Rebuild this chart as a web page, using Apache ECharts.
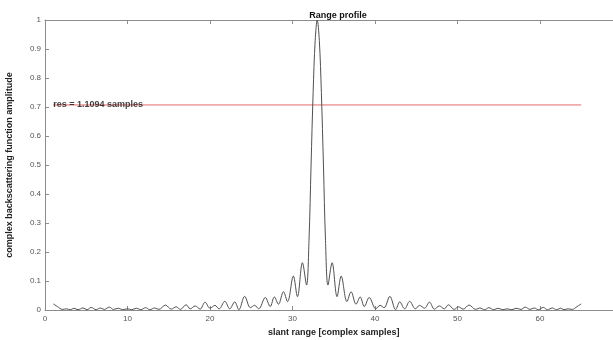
<!DOCTYPE html>
<html>
<head>
<meta charset="utf-8">
<script src="https://cdn.jsdelivr.net/npm/echarts@6/dist/echarts.min.js"></script>
<style>
  html, body { margin: 0; padding: 0; background: #fff; }
  #chart { width: 613px; height: 340px; }
</style>
</head>
<body>
<div id="chart"></div>
<script>
// slant range positions (complex samples) and amplitude
const rangeX = [
  1.0, 1.5, 2.1, 2.6, 3.1, 3.5, 4.0, 4.6, 5.1, 5.6, 6.2, 6.7, 7.2, 7.8, 8.3, 8.9, 9.4, 10.0, 10.5,
  11.1, 11.6, 12.2, 12.7, 13.3, 13.8, 14.6, 15.3, 15.9, 16.4, 17.1, 17.6, 18.2, 18.8, 19.4, 20.0,
  20.6, 21.1, 21.8, 22.4, 23.0, 23.5, 24.2, 24.9, 25.4, 25.9, 26.7, 27.3, 27.8, 28.3, 28.9, 29.4,
  30.1, 30.6, 31.2, 31.7, 32.0, 32.25, 32.5, 32.75, 33.0,
  33.25, 33.5, 33.75, 34.0, 34.3, 34.8, 35.4, 35.9, 36.6, 37.1, 37.7, 38.2, 38.7, 39.3, 40.1,
  40.6, 41.1, 41.8, 42.5, 43.0, 43.6, 44.2, 44.9, 45.4, 46.0, 46.6, 47.2, 47.8, 48.4, 48.9, 49.6,
  50.1, 50.7, 51.4, 52.2, 52.7, 53.3, 53.8, 54.4, 54.9, 55.5, 56.0, 56.6, 57.1, 57.7, 58.2, 58.8,
  59.3, 59.8, 60.4, 60.9, 61.5, 62.0, 62.5, 62.9, 63.4, 63.9, 64.5, 65.0
];
const amplitude = [
  0.021, 0.012, 0.002, 0.004, 0.001, 0.006, 0.001, 0.007, 0.001, 0.009, 0.001, 0.007, 0.002, 0.010, 0.002, 0.006, 0.001, 0.004, 0.001,
  0.006, 0.001, 0.008, 0.001, 0.007, 0.002, 0.017, 0.003, 0.011, 0.002, 0.018, 0.004, 0.014, 0.003, 0.027, 0.006,
  0.016, 0.004, 0.030, 0.004, 0.028, 0.001, 0.047, 0.008, 0.016, 0.004, 0.043, 0.012, 0.045, 0.020, 0.063, 0.029,
  0.117, 0.046, 0.163, 0.086, 0.240, 0.500, 0.750, 0.930, 1.000,
  0.930, 0.750, 0.500, 0.240, 0.086, 0.163, 0.046, 0.117, 0.029, 0.063, 0.020, 0.045, 0.012, 0.043, 0.004,
  0.016, 0.008, 0.047, 0.001, 0.028, 0.004, 0.030, 0.004, 0.016, 0.006, 0.027, 0.003, 0.014, 0.004, 0.018, 0.002,
  0.011, 0.003, 0.017, 0.002, 0.007, 0.001, 0.008, 0.001, 0.006, 0.001, 0.004, 0.001, 0.006, 0.002, 0.010, 0.002,
  0.007, 0.001, 0.009, 0.001, 0.007, 0.001, 0.006, 0.001, 0.004, 0.002, 0.012, 0.021
];
// -3 dB level line
const resX = [1, 65];
const resY = [0.7071, 0.7071];
const resText = 'res = 1.1094 samples';

const xTicks = [0, 10, 20, 30, 40, 50, 60, 70];

const FONT = '"Liberation Sans", Arial, sans-serif';
const AXIS_COLOR = '#8c8c8c';

const chart = echarts.init(document.getElementById('chart'), null, { renderer: 'canvas' });

const option = {
  animation: false,
  backgroundColor: '#fff',
  title: {
    text: 'Range profile',
    left: 333,
    top: 6,
    textAlign: 'center',
    textStyle: { fontFamily: FONT, fontSize: 9, fontWeight: 'bold', color: '#111' }
  },
  grid: {
    left: 45, top: 20, width: 577.5, height: 290,
    containLabel: false,
    outerBoundsMode: 'none'
  },
  xAxis: [
    {
      type: 'value',
      min: 0,
      max: 70,
      interval: 10,
      name: 'slant range [complex samples]',
      nameLocation: 'middle',
      nameGap: 12,
      nameTextStyle: { fontFamily: FONT, fontSize: 9, fontWeight: 'bold', color: '#222' },
      axisLine: { show: true, lineStyle: { color: AXIS_COLOR, width: 1 } },
      axisTick: { show: true, inside: true, length: 4, lineStyle: { color: AXIS_COLOR } },
      axisLabel: {
        fontFamily: FONT, fontSize: 8, color: '#555', margin: 5,
        customValues: xTicks
      },
      splitLine: { show: false }
    },
    {
      type: 'value',
      position: 'top',
      min: 0,
      max: 70,
      interval: 10,
      axisLine: { show: true, onZero: false, lineStyle: { color: AXIS_COLOR, width: 1 } },
      axisTick: { show: true, inside: true, length: 4, lineStyle: { color: AXIS_COLOR } },
      axisLabel: { show: false },
      splitLine: { show: false }
    }
  ],
  yAxis: {
    type: 'value',
    min: 0,
    max: 1,
    interval: 0.1,
    name: 'complex backscattering function amplitude',
    nameLocation: 'middle',
    nameGap: 31,
    nameTextStyle: { fontFamily: FONT, fontSize: 9, fontWeight: 'bold', color: '#222' },
    axisLine: { show: true, lineStyle: { color: AXIS_COLOR, width: 1 } },
    axisTick: { show: true, inside: true, length: 4, lineStyle: { color: AXIS_COLOR } },
    axisLabel: {
      fontFamily: FONT, fontSize: 8, color: '#555', margin: 4,
      formatter: v => String(Math.round(v * 10) / 10)
    },
    splitLine: { show: false }
  },
  series: [
    {
      name: 'profile',
      type: 'line',
      xAxisIndex: 0,
      smooth: 0.35,
      symbol: 'none',
      silent: true,
      lineStyle: { color: '#505050', width: 1 },
      data: rangeX.map((x, i) => [x, amplitude[i]])
    },
    {
      name: 'res',
      type: 'line',
      xAxisIndex: 0,
      symbol: 'none',
      silent: true,
      lineStyle: { color: '#e46a6a', width: 1 },
      z: 1,
      data: resX.map((x, i) => [x, resY[i]])
    },
    {
      name: 'res label',
      type: 'scatter',
      xAxisIndex: 0,
      symbolSize: 0,
      silent: true,
      z: 5,
      label: {
        show: true,
        position: 'right',
        distance: 0,
        formatter: resText,
        fontFamily: FONT,
        fontSize: 9,
        fontWeight: 'bold',
        color: '#111'
      },
      data: [[resX[0], resY[0]]]
    }
  ]
};

chart.setOption(option);
window.addEventListener('resize', () => chart.resize());
</script>
</body>
</html>
